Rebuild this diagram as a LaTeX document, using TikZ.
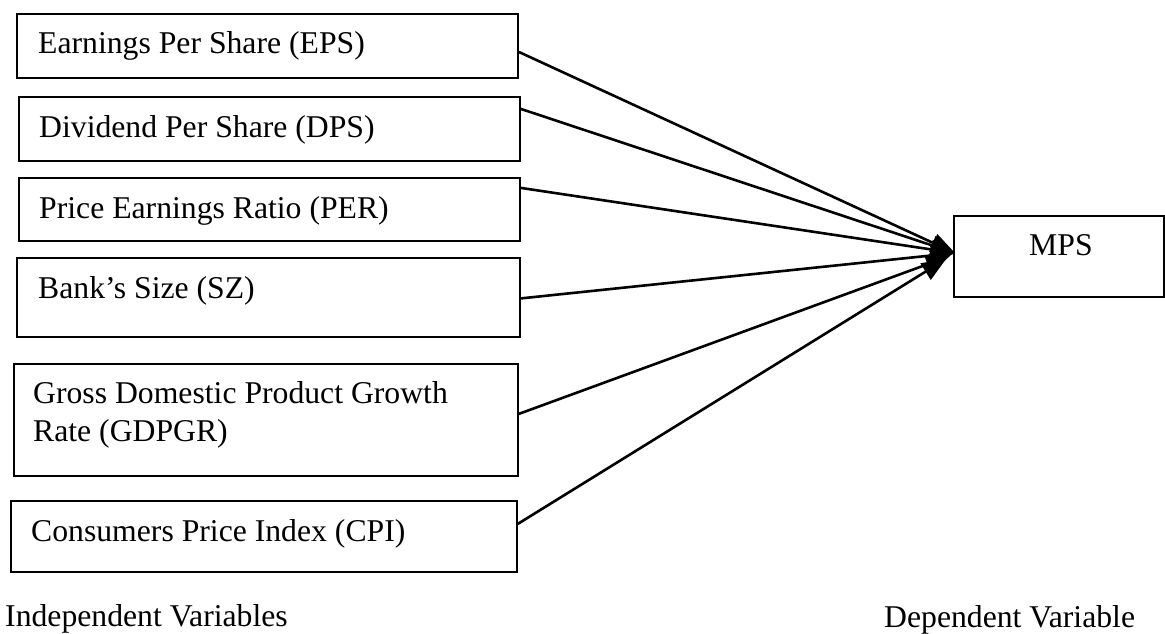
\documentclass[tikz,border=0pt]{standalone}
\usepackage{fontspec}
\setmainfont{Liberation Serif}
\usetikzlibrary{arrows.meta}
\begin{document}
\begin{tikzpicture}[x=1pt,y=-1pt,
  box/.style={draw,line width=1.8pt,rectangle,anchor=north west,inner sep=0pt},
  lbl/.style={anchor=base west,inner sep=0pt,font=\fontsize{31.7}{38}\selectfont},
  conn/.style={line width=2.6pt,-{Triangle[length=24pt,width=19pt]}}]
\useasboundingbox (0,0) rectangle (1165,633);
% boxes
\node[box,minimum width=501pt,minimum height=64pt] (b1) at (16,13) {};
\node[box,minimum width=501pt,minimum height=64pt] (b2) at (18,96) {};
\node[box,minimum width=501pt,minimum height=63pt] (b3) at (18,177) {};
\node[box,minimum width=503pt,minimum height=79pt] (b4) at (16,257) {};
\node[box,minimum width=504pt,minimum height=112pt] (b5) at (13,363) {};
\node[box,minimum width=506pt,minimum height=71pt] (b6) at (10,500) {};
\node[box,minimum width=210pt,minimum height=81pt] (m) at (953,215) {};
% labels
\node[lbl] (t1) at (38,53) {Earnings Per Share (EPS)};
\node[lbl] (t2) at (39,137) {Dividend Per Share (DPS)};
\node[lbl] (t3) at (39,218) {Price Earnings Ratio (PER)};
\node[lbl] (t4) at (38,298) {Bank’s Size (SZ)};
\node[lbl] (t5) at (33,403) {Gross Domestic Product Growth};
\node[lbl] (t5b) at (33,441) {Rate (GDPGR)};
\node[lbl] (t6) at (31,541) {Consumers Price Index (CPI)};
\node[lbl] (tm) at (1029,255) {MPS};
\node[lbl] (ti) at (5,626) {Independent Variables};
\node[lbl] (td) at (884,627) {Dependent Variable};
% connector ends
\coordinate (e1) at (955,253);
\coordinate (e5) at (950,256);
\coordinate (e6) at (946,259);
% connectors
\draw[conn] ([yshift=-6pt]b1.east) -- (e1);
\draw[conn] ([yshift=20pt]b2.east) -- (e1);
\draw[conn] ([yshift=21.5pt]b3.east) -- (e1);
\draw[conn] ([yshift=-1pt]b4.east) -- (e1);
\draw[conn] ([yshift=6pt]b5.east) -- (e5);
\draw[conn] ([yshift=12.5pt]b6.east) -- (e6);
\end{tikzpicture}
\end{document}
